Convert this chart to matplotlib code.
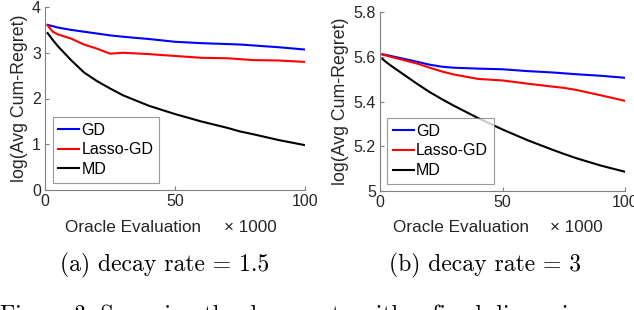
import matplotlib
matplotlib.use("Agg")
import matplotlib.pyplot as plt

# ---- data ----
x_pts = [1, 3, 5, 10, 15, 20, 25, 30, 40, 50, 60, 70, 75, 80, 90, 100]

a_gd    = [3.61, 3.58, 3.55, 3.50, 3.46, 3.42, 3.38, 3.35, 3.30, 3.24, 3.21, 3.19, 3.18, 3.16, 3.12, 3.07]
a_lasso = [3.60, 3.46, 3.40, 3.31, 3.18, 3.09, 2.98, 3.00, 2.97, 2.93, 2.89, 2.88, 2.86, 2.84, 2.83, 2.80]
a_md    = [3.43, 3.28, 3.14, 2.84, 2.57, 2.38, 2.22, 2.07, 1.84, 1.66, 1.50, 1.36, 1.28, 1.22, 1.09, 0.98]

b_gd    = [5.611, 5.607, 5.602, 5.590, 5.578, 5.565, 5.556, 5.551, 5.547, 5.544, 5.536, 5.530, 5.526, 5.522, 5.515, 5.506]
b_lasso = [5.610, 5.604, 5.598, 5.584, 5.570, 5.552, 5.535, 5.521, 5.501, 5.494, 5.480, 5.467, 5.461, 5.452, 5.428, 5.403]
b_md    = [5.590, 5.572, 5.556, 5.518, 5.480, 5.444, 5.412, 5.382, 5.326, 5.275, 5.228, 5.186, 5.166, 5.147, 5.114, 5.086]

labels = ["GD", "Lasso-GD", "MD"]
colors = ["#0000ff", "#ff0000", "#000000"]
a_yticks = [0, 1, 2, 3, 4]
b_yticks = [5, 5.2, 5.4, 5.6, 5.8]
xticks = [0, 50, 100]
captions = ["(a) decay rate = 1.5", "(b) decay rate = 3"]

plt.rcParams["font.family"] = ["Liberation Sans", "DejaVu Sans"]

fig = plt.figure(figsize=(6.34, 3.10), dpi=100)
axA = fig.add_axes([45/634, 1-190/310, 260/634, 183/310])
axB = fig.add_axes([380/634, 1-191/310, 245/634, 179/310])

def style(ax, ylim, yticks, ytl, xl_x, mul_x, lab_y):
    for s in ["top", "right"]:
        ax.spines[s].set_visible(False)
    for s in ["left", "bottom"]:
        ax.spines[s].set_color("#808080")
        ax.spines[s].set_linewidth(0.8)
    ax.set_xlim(0, 100)
    ax.set_ylim(*ylim)
    ax.set_xticks(xticks)
    ax.set_yticks(yticks)
    ax.set_yticklabels(ytl)
    ax.tick_params(direction="in", length=3, color="#808080", labelsize=11.5,
                   labelcolor="#262626", pad=3)
    ax.set_xlabel("Oracle Evaluation", fontsize=12.3, color="#262626")
    ax.xaxis.set_label_coords(xl_x, lab_y)
    ax.xaxis.label.set_verticalalignment("center")
    ax.set_ylabel("log(Avg Cum-Regret)", fontsize=12.8, color="#262626", labelpad=3)
    ax.text(mul_x, lab_y, "\u00d7 1000", transform=ax.transAxes, fontsize=12.3,
            color="#262626", ha="center", va="center")

for ax, series, ylim, yt, ytl, xl_x, mul_x, lab_y in [
    (axA, [a_gd, a_lasso, a_md], (0, 4), a_yticks, ["0", "1", "2", "3", "4"], 0.34, 0.79, -37/183),
    (axB, [b_gd, b_lasso, b_md], (5, 5.8), b_yticks, ["5", "5.2", "5.4", "5.6", "5.8"], 0.33, 0.80, -36/179),
]:
    for ys, lab, c in zip(series, labels, colors):
        ax.plot(x_pts, ys, color=c, lw=1.5, label=lab)
    style(ax, ylim, yt, ytl, xl_x, mul_x, lab_y)
    leg = ax.legend(loc="lower left", bbox_to_anchor=(0.03, 0.04), fontsize=11.5,
                    frameon=True, fancybox=False, edgecolor="#808080",
                    handlelength=1.3, handletextpad=0.15, borderpad=0.35,
                    labelspacing=0.3, borderaxespad=0)
    leg.get_frame().set_linewidth(0.8)

fig.text(165/634, 1-265/310, captions[0], fontsize=17, family="cmr10",
         ha="center", va="center")
fig.text(485/634, 1-265/310, captions[1], fontsize=17, family="cmr10",
         ha="center", va="center")
fig.text(0.0, 1-322/310, "Figure 3: Sweeping the decay rate with a fixed dimension", fontsize=17,
         family="cmr10", ha="left", va="baseline")

fig.savefig("out.png", dpi=100)
